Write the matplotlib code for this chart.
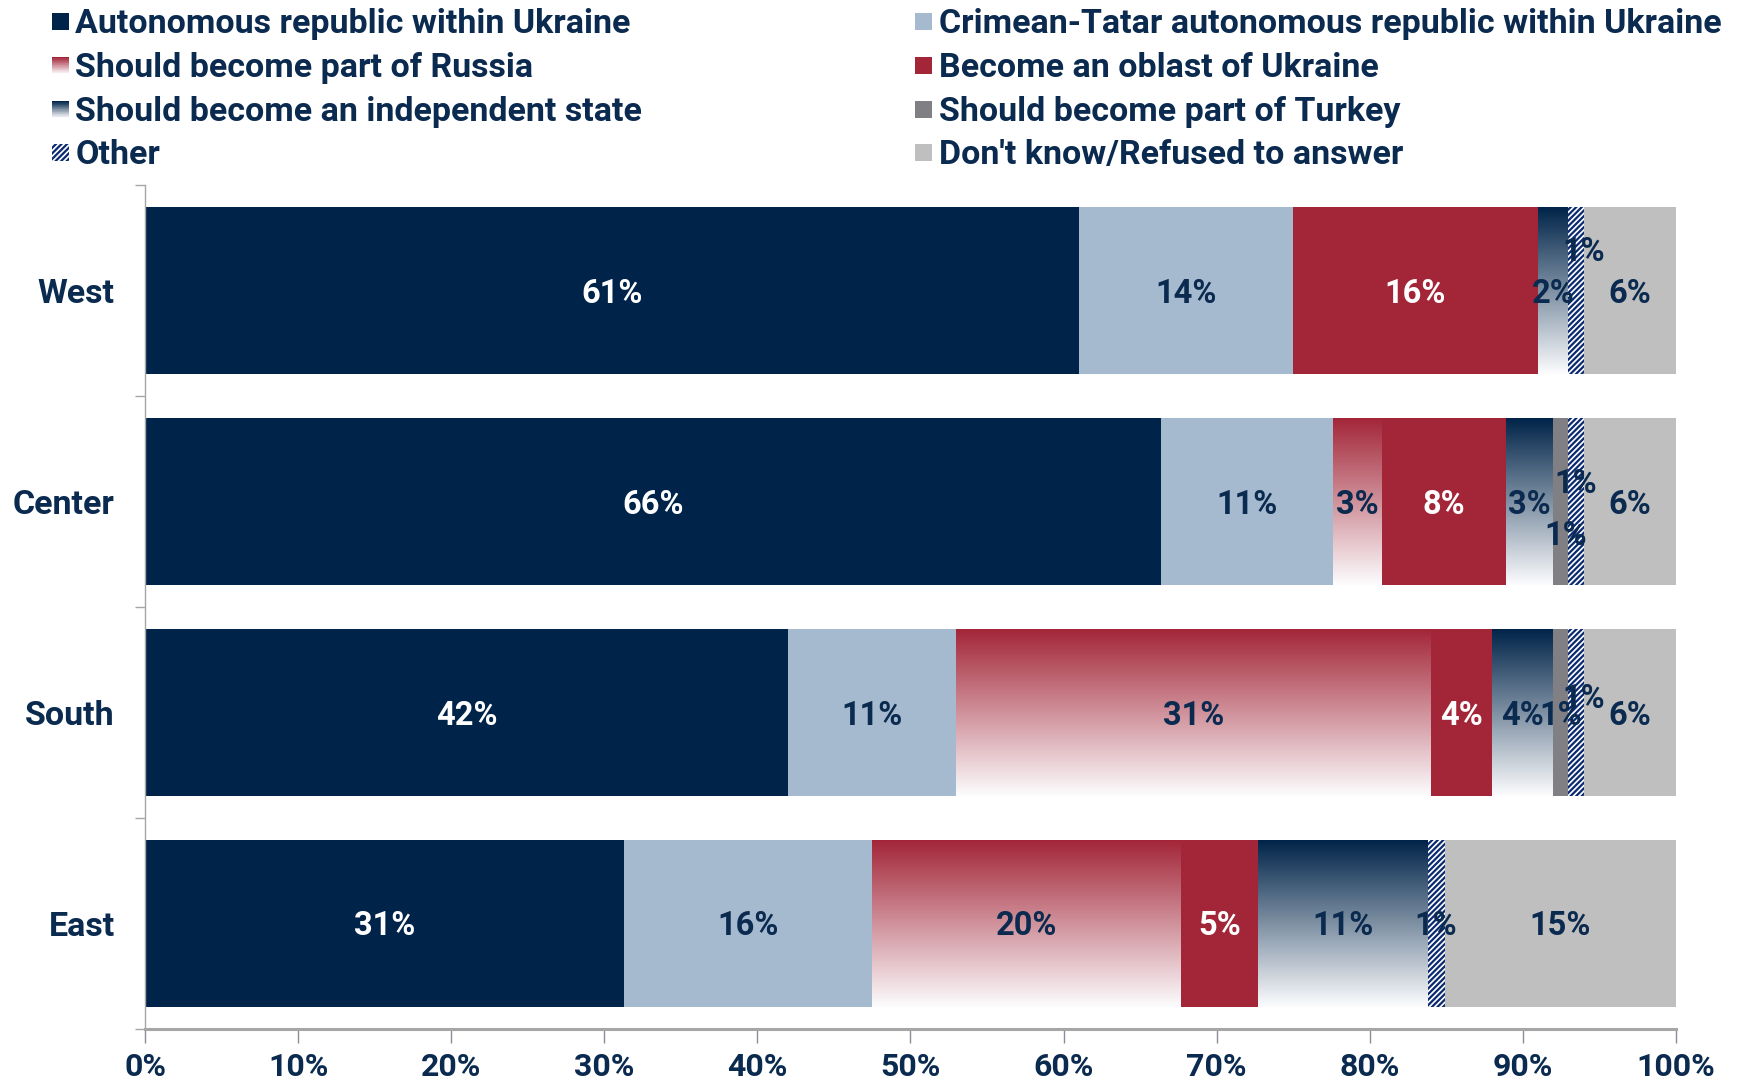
import numpy as np
import matplotlib
matplotlib.use("Agg")
import matplotlib.pyplot as plt
from matplotlib.patches import Rectangle
from matplotlib.ticker import FixedLocator

plt.rcParams['font.family'] = ['Roboto', 'DejaVu Sans']
plt.rcParams['font.weight'] = 'bold'
plt.rcParams['hatch.linewidth'] = 1.6

# ---------------- data ----------------
regions = ["West", "Center", "South", "East"]
series_names = [
    "Autonomous republic within Ukraine",
    "Crimean-Tatar autonomous republic within Ukraine",
    "Should become part of Russia",
    "Become an oblast of Ukraine",
    "Should become an independent state",
    "Should become part of Turkey",
    "Other",
    "Don't know/Refused to answer",
]
autonomous = [61.0, 66.4, 42.0, 31.3]
crimean_tatar = [14.0, 11.2, 11.0, 16.2]
part_of_russia = [0.0, 3.2, 31.0, 20.2]
oblast = [16.0, 8.1, 4.0, 5.0]
independent = [2.0, 3.1, 4.0, 11.1]
part_of_turkey = [0.0, 1.0, 1.0, 0.0]
other = [1.0, 1.0, 1.0, 1.1]
dont_know = [6.0, 6.0, 6.0, 15.1]
xtick_labels = ["0%", "10%", "20%", "30%", "40%", "50%", "60%", "70%", "80%", "90%", "100%"]

series = [autonomous, crimean_tatar, part_of_russia, oblast,
          independent, part_of_turkey, other, dont_know]

# ---------------- styles ----------------
NAVY = '#002449'
TXT = '#0B2A4F'
RED = '#A32638'
styles = [
    dict(kind='solid', color=NAVY, label_color='white'),
    dict(kind='solid', color='#A5BACF', label_color=TXT),
    dict(kind='grad', color=RED, label_color=TXT),
    dict(kind='solid', color=RED, label_color='white'),
    dict(kind='grad', color=NAVY, label_color=TXT),
    dict(kind='solid', color='#7F7F84', label_color=TXT),
    dict(kind='hatch', color='#0A2A70', label_color=TXT),
    dict(kind='solid', color='#BFBFBF', label_color=TXT),
]
# manual label offsets (dx, dy) in data units: (series index, region index)
label_offsets = {
    (6, 0): (0.5, -0.2),
    (6, 1): (0.0, -0.10),
    (5, 1): (0.3, 0.15),
    (6, 2): (0.5, -0.08),
}

FS_LEG = 24.5
FS_Y = 24.5
FS_BAR = 23.5
FS_X = 23
W, H = 1740, 1085
fig = plt.figure(figsize=(W / 100, H / 100), dpi=100)
ax = fig.add_axes([145.4 / W, 1 - 1028.7 / H, (1675.6 - 145.4) / W, (1028.7 - 185.3) / H])

bar_h = 0.79
ypos = np.arange(len(regions))


def grad_array(color, n=256):
    c = np.array(matplotlib.colors.to_rgb(color))
    t = np.linspace(0, 1, n)[:, None]
    bottom = np.array([0.99, 0.99, 0.995])
    arr = c * (1 - t) + bottom * t
    return arr[:, None, :]


lefts = np.zeros(len(regions))
for si, (vals, st) in enumerate(zip(series, styles)):
    vals = np.array(vals)
    for ri, v in enumerate(vals):
        if v <= 0:
            continue
        l = lefts[ri]
        y = ypos[ri]
        if st['kind'] == 'solid':
            ax.barh(y, v, left=l, height=bar_h, color=st['color'], linewidth=0, zorder=2)
        elif st['kind'] == 'grad':
            ax.imshow(grad_array(st['color']), extent=(l, l + v, y + bar_h / 2, y - bar_h / 2),
                      origin='upper', aspect='auto', interpolation='bilinear', zorder=2)
        else:
            ax.barh(y, v, left=l, height=bar_h, facecolor='white', edgecolor=st['color'],
                    hatch='//////', linewidth=0, zorder=2)
        dx, dy = label_offsets.get((si, ri), (0.0, 0.0))
        ax.text(l + v / 2 + dx, y + dy + 0.015, f"{v:.0f}%", ha='center', va='center',
                color=st['label_color'], fontsize=FS_BAR, fontweight='bold', zorder=5)
    lefts += vals

ax.set_xlim(0, 100)
ax.set_ylim(len(regions) - 0.5, -0.5)
ax.set_xticks(np.arange(0, 101, 10))
ax.set_xticklabels(xtick_labels)
ax.set_yticks(ypos)
ax.set_yticklabels(regions)
ax.yaxis.set_minor_locator(FixedLocator(np.arange(-0.5, len(regions), 1.0)))

for s in ['top', 'right']:
    ax.spines[s].set_visible(False)
ax.spines['left'].set_color('#A6A6A6')
ax.spines['left'].set_linewidth(1.0)
ax.spines['bottom'].set_color('#A6A6A6')
ax.spines['bottom'].set_linewidth(2.2)
ax.tick_params(axis='y', which='major', length=0, pad=22, labelsize=FS_Y, labelcolor=TXT)
ax.tick_params(axis='y', which='minor', length=7, width=1, color='#A6A6A6', direction='out')
ax.tick_params(axis='x', which='major', length=10, width=1, color='#8C8C96', direction='out',
               pad=7, labelsize=FS_X, labelcolor=TXT)
for lab in ax.get_xticklabels() + ax.get_yticklabels():
    lab.set_fontweight('bold')

# ---------------- legend (manual, figure coords) ----------------
col_x = [(52, 75.5), (915, 939)]
baselines = [33, 77, 121, 164]
msize = 17
for i, (name, st) in enumerate(zip(series_names, styles)):
    col = 0 if i % 2 == 0 else 1
    row = i // 2
    mx, tx = col_x[col]
    base = baselines[row]
    top_px = base - 20
    x0 = mx / W
    y0 = 1 - (top_px + msize) / H
    w = msize / W
    h = msize / H
    if st['kind'] == 'solid':
        fig.patches.append(Rectangle((x0, y0), w, h, transform=fig.transFigure,
                                     facecolor=st['color'], linewidth=0))
    elif st['kind'] == 'grad':
        n = 24
        arr = grad_array(st['color'], n)[:, 0, :]
        for k in range(n):
            fig.patches.append(Rectangle((x0, y0 + h * (n - 1 - k) / n), w, h / n * 1.05,
                                         transform=fig.transFigure, facecolor=arr[k], linewidth=0))
    else:
        fig.patches.append(Rectangle((x0, y0), w, h, transform=fig.transFigure,
                                     facecolor='white', edgecolor=st['color'], hatch='//////',
                                     linewidth=0))
    fig.text(tx / W, 1 - base / H, name, ha='left', va='baseline', color=TXT,
             fontsize=FS_LEG, fontweight='bold')

fig.savefig("out.png", dpi=100)
